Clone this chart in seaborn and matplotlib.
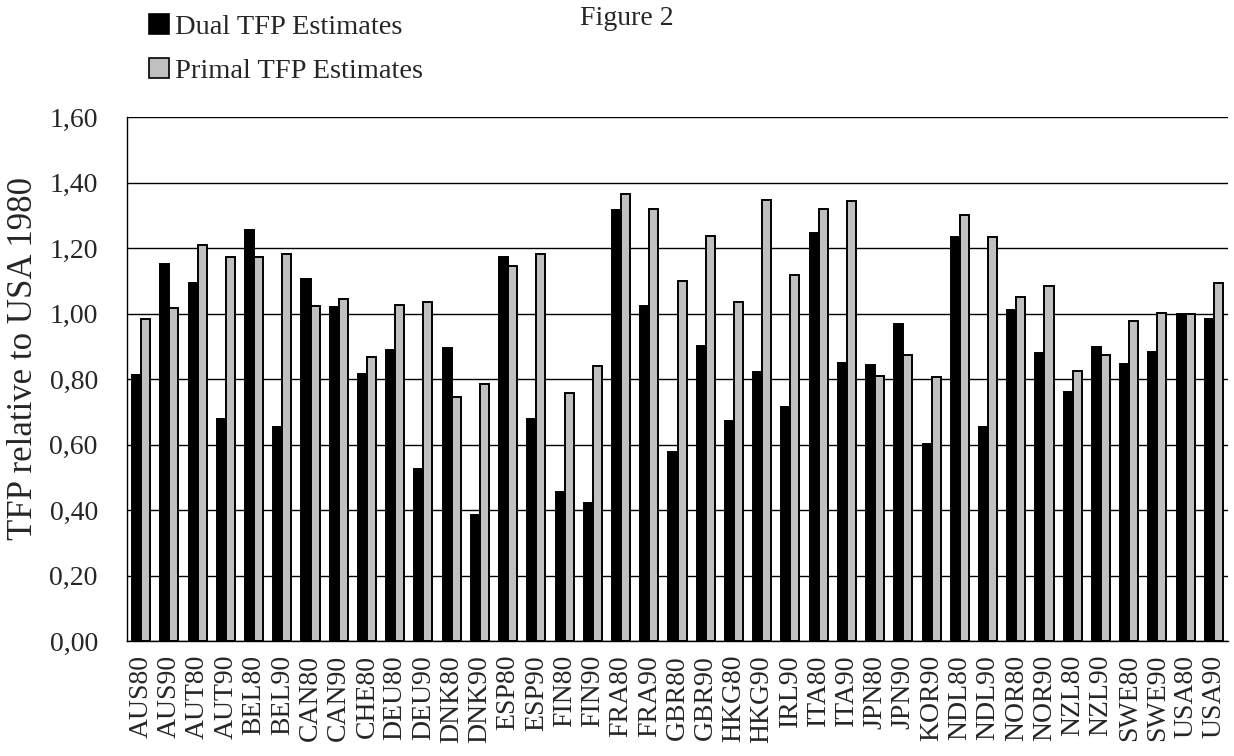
import matplotlib
matplotlib.use("Agg")
import matplotlib.pyplot as plt
import matplotlib.patches as mpatches
import seaborn as sns
import pandas as pd
import numpy as np

categories = ["AUS80", "AUS90", "AUT80", "AUT90", "BEL80", "BEL90", "CAN80", "CAN90",
              "CHE80", "DEU80", "DEU90", "DNK80", "DNK90", "ESP80", "ESP90", "FIN80",
              "FIN90", "FRA80", "FRA90", "GBR80", "GBR90", "HKG80", "HKG90", "IRL90",
              "ITA80", "ITA90", "JPN80", "JPN90", "KOR90", "NDL80", "NDL90", "NOR80",
              "NOR90", "NZL80", "NZL90", "SWE80", "SWE90", "USA80", "USA90"]
dual = [0.811, 1.152, 1.093, 0.679, 1.255, 0.654, 1.106, 1.019,
        0.815, 0.889, 0.525, 0.895, 0.385, 1.173, 0.677, 0.454,
        0.422, 1.316, 1.023, 0.577, 0.902, 0.671, 0.820, 0.716,
        1.247, 0.849, 0.842, 0.968, 0.602, 1.234, 0.652, 1.012,
        0.878, 0.760, 0.899, 0.845, 0.881, 1.000, 0.982]
primal = [0.984, 1.018, 1.210, 1.173, 1.173, 1.182, 1.024, 1.043,
          0.868, 1.025, 1.034, 0.745, 0.785, 1.146, 1.182, 0.758,
          0.841, 1.366, 1.318, 1.100, 1.236, 1.035, 1.346, 1.117,
          1.320, 1.342, 0.808, 0.872, 0.805, 1.302, 1.233, 1.050,
          1.083, 0.824, 0.874, 0.978, 1.001, 1.000, 1.093]
series_names = ["Dual TFP Estimates", "Primal TFP Estimates"]
y_ticks = [0.0, 0.2, 0.4, 0.6, 0.8, 1.0, 1.2, 1.4, 1.6]

df = pd.DataFrame({
    "cat": categories * 2,
    "val": dual + primal,
    "series": [series_names[0]] * len(categories) + [series_names[1]] * len(categories),
})

sns.set_style("white")
plt.rcParams["font.family"] = ["Liberation Serif", "DejaVu Serif"]

fig = plt.figure(figsize=(12.34, 7.56), dpi=100)
ax = fig.add_axes([127 / 1234, 1 - 641 / 756, (1228 - 127) / 1234, (641 - 117) / 756])

colors = {series_names[0]: "#000000", series_names[1]: "#C0C0C0"}
sns.barplot(data=df, x="cat", y="val", hue="series", order=categories,
            hue_order=series_names, palette=colors, width=0.64, gap=0,
            edgecolor="black", linewidth=1.4, saturation=1, ax=ax, legend=False,
            zorder=3)

ax.set_xlim(-0.5, len(categories) - 0.5)
ax.set_ylim(0, 1.6)
ax.set_yticks(y_ticks)
ax.set_yticklabels([f"{v:.2f}".replace(".", ",") for v in y_ticks], fontsize=20)
ax.yaxis.grid(True, color="black", linewidth=1.0, zorder=0)
ax.set_axisbelow(True)

ax.set_xticks(range(len(categories)))
ax.set_xticklabels(categories, rotation=90, fontsize=20)
ax.set_xticks(np.arange(-0.5, len(categories), 1.0), minor=True)
ax.tick_params(axis="x", which="major", length=0, pad=10)
ax.tick_params(axis="x", which="minor", length=8, width=1, color="black", direction="out")
ax.tick_params(axis="y", which="major", length=9, width=1, color="black", direction="out", pad=12)

for s in ["top", "right"]:
    ax.spines[s].set_visible(False)
for s in ["left", "bottom"]:
    ax.spines[s].set_color("black")
    ax.spines[s].set_linewidth(1)

ax.set_xlabel("")
ax.set_ylabel("")
fig.text(24 / 1234, 1 - 359 / 756, "TFP relative to USA 1980", fontsize=25,
         rotation=90, ha="center", va="center")

handles = [mpatches.Patch(facecolor="#000000", edgecolor="black", linewidth=1.2),
           mpatches.Patch(facecolor="#C0C0C0", edgecolor="black", linewidth=1.2)]
fig.legend(handles, series_names, loc="upper left", bbox_to_anchor=(149 / 1234, 1 - 14 / 756),
           frameon=False, fontsize=20.5, handlelength=0.7, handleheight=0.7,
           handletextpad=0.2, labelspacing=0.63, borderaxespad=0, borderpad=0)

fig.text(580 / 1234, 1 - 6 / 756, "Figure 2", fontsize=20, va="top", ha="left")

fig.savefig("out.png", dpi=100)
